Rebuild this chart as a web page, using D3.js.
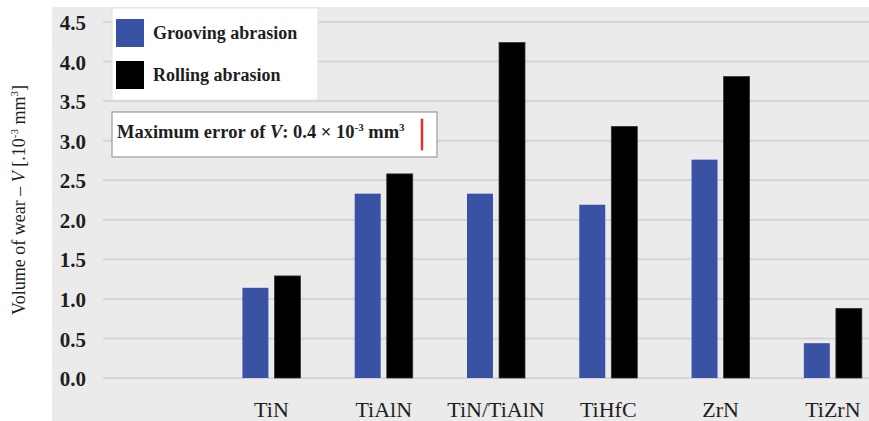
<!DOCTYPE html>
<html>
<head>
<meta charset="utf-8">
<script src="https://cdn.jsdelivr.net/npm/d3@7"></script>
<style>
  html, body { margin: 0; padding: 0; background: #fff; }
</style>
</head>
<body>
<svg id="chart" width="869" height="421"></svg>
<script>
// Coating types (first slot intentionally left empty)
const categories = ["", "TiN", "TiAlN", "TiN/TiAlN", "TiHfC", "ZrN", "TiZrN"];
// Volume of wear [10^-3 mm^3]
const grooving = [null, 1.14, 2.33, 2.33, 2.19, 2.76, 0.44];
const rolling  = [null, 1.29, 2.58, 4.24, 3.18, 3.81, 0.88];
const seriesNames = ["Grooving abrasion", "Rolling abrasion"];
const seriesColors = ["#3a52a3", "#000000"];
const yTicks = [0, 0.5, 1, 1.5, 2, 2.5, 3, 3.5, 4, 4.5];
const maxError = 0.4;

const FONT = '"Liberation Serif", "Times New Roman", Times, serif';
const INK = "#1e1e1e";

const svg = d3.select("#chart");
const W = 869, H = 421;

// plot panel background
const panel = { left: 52, top: 7 };
svg.append("rect").attr("x", panel.left).attr("y", panel.top)
  .attr("width", W - panel.left).attr("height", H - panel.top).attr("fill", "#ebebeb");

const x = d3.scaleBand().domain(categories).range([103, 889]).padding(0);
const y = d3.scaleLinear().domain([0, 4.5]).range([378, 22]);

// gridlines
svg.append("g").selectAll("line").data(yTicks).join("line")
  .attr("x1", 103).attr("x2", W)
  .attr("y1", d => y(d)).attr("y2", d => y(d))
  .attr("stroke", "#d5d5d5").attr("stroke-width", 2);

// y axis tick labels
const yAxis = d3.axisLeft(y).tickValues(yTicks).tickFormat(d3.format(".1f")).tickSize(0).tickPadding(0);
const gy = svg.append("g").attr("transform", "translate(86,0)").call(yAxis);
gy.select(".domain").remove();
gy.selectAll("text")
  .style("font-family", FONT).style("font-size", "21px").style("font-weight", "bold")
  .attr("fill", INK).attr("dy", "0.36em");

// x axis labels
const xAxis = d3.axisBottom(x).tickSize(0).tickPadding(0);
const gx = svg.append("g").attr("transform", "translate(0,401)").call(xAxis);
gx.select(".domain").remove();
gx.selectAll("text")
  .style("font-family", FONT).style("font-size", "22px")
  .attr("fill", INK).attr("dy", "0.71em");

// grouped bars
const groupWidth = 58;
const inner = d3.scaleBand().domain([0, 1]).range([0, groupWidth]).paddingInner(0.19);
const rows = categories.map((c, i) => ({ c, vals: [grooving[i], rolling[i]] }));
const groups = svg.append("g").selectAll("g").data(rows).join("g")
  .attr("transform", d => `translate(${x(d.c) + (x.bandwidth() - groupWidth) / 2},0)`);
groups.selectAll("rect")
  .data(d => d.vals.map((v, k) => ({ v, k })).filter(e => e.v != null))
  .join("rect")
  .attr("x", e => inner(e.k)).attr("width", inner.bandwidth())
  .attr("y", e => y(e.v)).attr("height", e => y(0) - y(e.v))
  .attr("fill", e => seriesColors[e.k])
  .attr("stroke", e => e.k === 0 ? "none" : "#333").attr("stroke-width", 0.8);

// legend
const lg = svg.append("g");
lg.append("rect").attr("x", 112).attr("y", 8).attr("width", 206).attr("height", 92)
  .attr("fill", "#fff").attr("stroke", "#e2e2e2");
seriesNames.forEach((name, k) => {
  lg.append("rect").attr("x", 116).attr("y", 19 + k * 42).attr("width", 28).attr("height", 28)
    .attr("fill", seriesColors[k]);
  lg.append("text").attr("x", 153).attr("y", 39 + k * 42)
    .style("font-family", FONT).style("font-size", "18px").style("font-weight", "bold")
    .attr("fill", INK).text(name);
});

// maximum error box
const eb = svg.append("g");
eb.append("rect").attr("x", 112).attr("y", 112).attr("width", 325).attr("height", 45)
  .attr("fill", "#fff").attr("stroke", "#9a9a9a").attr("stroke-width", 1.2);
const et = eb.append("text").attr("x", 117).attr("y", 138)
  .style("font-family", FONT).style("font-size", "18.5px").style("font-weight", "bold").attr("fill", INK);
et.append("tspan").text("Maximum error of ");
et.append("tspan").style("font-style", "italic").text("V");
et.append("tspan").text(": 0.4 × 10");
et.append("tspan").style("font-size", "11px").attr("dy", -7).text("-3");
et.append("tspan").attr("dy", 7).text(" mm");
et.append("tspan").style("font-size", "11px").attr("dy", -7).text("3");
const errMid = 134.5;
eb.append("line").attr("x1", 422).attr("x2", 422)
  .attr("y1", errMid - (y(0) - y(maxError)) / 2).attr("y2", errMid + (y(0) - y(maxError)) / 2)
  .attr("stroke", "#e8302a").attr("stroke-width", 2.5);

// y axis title
const yt = svg.append("text").attr("transform", "translate(25,200) rotate(-90)")
  .attr("text-anchor", "middle")
  .style("font-family", FONT).style("font-size", "18px").attr("fill", INK);
yt.append("tspan").text("Volume of wear – ");
yt.append("tspan").style("font-style", "italic").text("V");
yt.append("tspan").text(" [.10");
yt.append("tspan").style("font-size", "11px").attr("dy", -7).text("-3");
yt.append("tspan").attr("dy", 7).text(" mm");
yt.append("tspan").style("font-size", "11px").attr("dy", -7).text("3");
yt.append("tspan").attr("dy", 7).text("]");
</script>
</body>
</html>
